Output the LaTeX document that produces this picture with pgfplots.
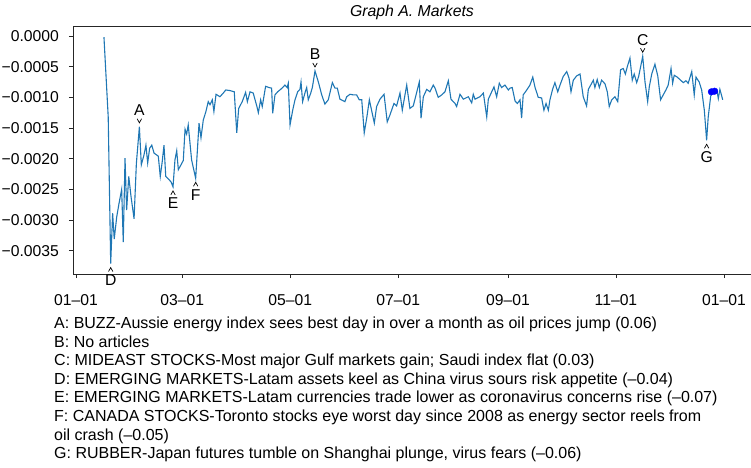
\documentclass[border=0pt]{standalone}
\usepackage{fontspec}
\setmainfont{Liberation Sans}
\usepackage{pgfplots}
\pgfplotsset{compat=1.18}
\definecolor{mplblue}{HTML}{1F77B4}
\newcommand{\fs}{\fontsize{15.7bp}{18bp}\selectfont}
\newcommand{\ft}{\fontsize{16bp}{18.6bp}\selectfont}
\newcommand{\annUp}[3]{%
  \draw[line width=0.7bp] ([xshift=-2.2bp,yshift=8bp]axis cs:#1,#2) -- ([yshift=4bp]axis cs:#1,#2) -- ([xshift=2.2bp,yshift=8bp]axis cs:#1,#2);
  \node[font=\fs,inner sep=0pt] at ([yshift=16.5bp]axis cs:#1,#2) {#3};}
\newcommand{\annDown}[3]{%
  \draw[line width=0.7bp] ([xshift=-2.2bp,yshift=-8bp]axis cs:#1,#2) -- ([yshift=-4bp]axis cs:#1,#2) -- ([xshift=2.2bp,yshift=-8bp]axis cs:#1,#2);
  \node[font=\fs,inner sep=0pt] at ([yshift=-16.5bp]axis cs:#1,#2) {#3};}
\begin{document}
\begin{tikzpicture}
\path[use as bounding box] (0bp,0bp) rectangle (751bp,-468bp);
\begin{axis}[
  at={(73bp,-274bp)}, anchor=south west,
  scale only axis, width=680bp, height=248bp,
  xmin=-1.69, xmax=382.4, ymin=-0.00388, ymax=0.000163,
  axis line style={line width=0.8bp, draw=black!85},
  tick style={line width=0.8bp, draw=black!85},
  tick align=outside, major tick length=4bp,
  xtick={0,60,121,182,244,305,366},
  xticklabels={01–01,03–01,05–01,07–01,09–01,11–01,01–01},
  ytick={0,-0.0005,-0.001,-0.0015,-0.002,-0.0025,-0.003,-0.0035},
  yticklabels={0.0000,−0.0005,−0.0010,−0.0015,−0.0020,−0.0025,−0.0030,−0.0035},
  xtick pos=bottom, ytick pos=left,
  ticklabel style={font=\fs, inner sep=0pt},
  xticklabel style={anchor=north, yshift=-16.4bp},
  yticklabel style={anchor=east, xshift=-10bp},
  scaled y ticks=false,
  clip=false,
]
\addplot[mplblue, line width=1.1bp] coordinates {
(15.8,-0.00002) (18.2,-0.00132) (19.6,-0.00371) (20.7,-0.00289) (21.6,-0.00331)
(23.0,-0.00295) (24.3,-0.00273) (25.8,-0.00250) (26.7,-0.00336) (27.7,-0.00199)
(28.6,-0.00284) (29.8,-0.00229) (31.1,-0.00262) (32.8,-0.00298) (34.1,-0.00208)
(35.8,-0.00148) (36.9,-0.00210) (38.4,-0.00194) (39.5,-0.00178) (40.5,-0.00207)
(41.6,-0.00183) (42.8,-0.00178) (44.1,-0.00191) (45.6,-0.00194) (46.5,-0.00196)
(47.6,-0.00229) (48.7,-0.00205) (49.7,-0.00178) (50.7,-0.00229) (52.5,-0.00234)
(53.7,-0.00238) (54.8,-0.00246) (55.9,-0.00202) (56.9,-0.00187) (57.8,-0.00218)
(59.3,-0.00210) (60.6,-0.00203) (61.6,-0.00152) (62.5,-0.00160) (63.4,-0.00145)
(65.3,-0.00202) (67.6,-0.00232) (69.5,-0.00142) (70.6,-0.00166) (71.9,-0.00137)
(73.4,-0.00123) (74.7,-0.00107) (75.7,-0.00112) (77.0,-0.00104) (77.9,-0.00123)
(79.1,-0.00095) (81.3,-0.00099) (83.2,-0.00093) (84.6,-0.00088) (87.0,-0.00089)
(89.4,-0.00091) (90.8,-0.00158) (91.9,-0.00118) (93.9,-0.00107) (95.8,-0.00092)
(96.8,-0.00107) (98.3,-0.00091) (100.1,-0.00093) (102.1,-0.00114) (103.0,-0.00125)
(104.3,-0.00104) (105.2,-0.00115) (107.1,-0.00082) (109.0,-0.00084) (110.5,-0.00085)
(111.1,-0.00126) (112.4,-0.00096) (113.9,-0.00091) (115.2,-0.00088) (116.7,-0.00084)
(118.0,-0.00080) (119.3,-0.00084) (119.9,-0.00077) (120.9,-0.00145) (122.4,-0.00121)
(123.7,-0.00104) (125.2,-0.00091) (126.5,-0.00087) (127.1,-0.00075) (128.0,-0.00107)
(129.3,-0.00093) (130.3,-0.00084) (131.2,-0.00104) (132.6,-0.00093) (133.5,-0.00084)
(135.0,-0.00057) (136.9,-0.00075) (138.8,-0.00096) (140.6,-0.00111) (142.5,-0.00104)
(144.8,-0.00076) (146.3,-0.00085) (147.6,-0.00085) (149.1,-0.00103) (151.9,-0.00107)
(152.9,-0.00099) (154.8,-0.00095) (156.6,-0.00096) (158.5,-0.00096) (160.0,-0.00104)
(161.4,-0.00104) (162.8,-0.00158) (164.2,-0.00134) (165.7,-0.00104) (168.5,-0.00142)
(169.8,-0.00115) (171.7,-0.00103) (174.0,-0.00095) (175.8,-0.00140) (177.3,-0.00129)
(179.6,-0.00110) (181.1,-0.00114) (183.0,-0.00093) (184.3,-0.00121) (186.8,-0.00080)
(188.6,-0.00118) (190.5,-0.00114) (193.9,-0.00075) (194.9,-0.00134) (196.2,-0.00099)
(198.1,-0.00087) (199.9,-0.00091) (201.8,-0.00080) (202.8,-0.00085) (204.6,-0.00100)
(206.6,-0.00096) (208.4,-0.00091) (210.3,-0.00073) (211.8,-0.00103) (214.1,-0.00110)
(215.0,-0.00115) (216.9,-0.00095) (218.8,-0.00103) (221.6,-0.00099) (223.5,-0.00109)
(224.4,-0.00095) (225.4,-0.00103) (228.2,-0.00099) (230.1,-0.00093) (232.0,-0.00132)
(232.9,-0.00103) (234.8,-0.00091) (236.1,-0.00083) (237.6,-0.00099) (239.1,-0.00077)
(240.4,-0.00084) (242.3,-0.00080) (244.2,-0.00088) (245.1,-0.00085) (246.4,-0.00084)
(248.0,-0.00106) (249.3,-0.00110) (250.8,-0.00104) (251.7,-0.00134) (252.6,-0.00096)
(254.6,-0.00088) (256.4,-0.00080) (258.0,-0.00067) (259.3,-0.00084) (261.1,-0.00100)
(263.0,-0.00101) (264.3,-0.00121) (265.5,-0.00110) (266.8,-0.00121) (267.7,-0.00104)
(269.2,-0.00087) (270.5,-0.00076) (272.1,-0.00091) (273.4,-0.00080) (275.2,-0.00066)
(277.2,-0.00058) (278.5,-0.00069) (279.6,-0.00091) (280.9,-0.00072) (282.8,-0.00065)
(284.7,-0.00062) (286.5,-0.00099) (288.4,-0.00114) (289.4,-0.00087) (291.3,-0.00077)
(292.2,-0.00072) (293.1,-0.00084) (294.4,-0.00071) (295.6,-0.00084) (296.9,-0.00072)
(298.8,-0.00078) (300.1,-0.00091) (301.2,-0.00115) (302.6,-0.00104) (304.4,-0.00099)
(306.0,-0.00107) (307.6,-0.00055) (309.1,-0.00053) (310.3,-0.00062) (311.4,-0.00050)
(312.9,-0.00036) (314.2,-0.00072) (315.3,-0.00062) (316.7,-0.00076) (317.8,-0.00066)
(319.0,-0.00049) (320.1,-0.00033) (321.4,-0.00075) (322.9,-0.00107) (323.8,-0.00083)
(325.2,-0.00062) (327.0,-0.00046) (328.6,-0.00065) (330.2,-0.00104) (331.7,-0.00096)
(333.2,-0.00088) (334.5,-0.00080) (336.1,-0.00053) (337.0,-0.00077) (337.9,-0.00064)
(339.6,-0.00067) (341.1,-0.00071) (343.0,-0.00076) (344.5,-0.00073) (345.8,-0.00077)
(347.8,-0.00058) (349.2,-0.00096) (350.2,-0.00067) (352.0,-0.00075) (353.4,-0.00088)
(354.9,-0.00121) (356.2,-0.00170) (357.1,-0.00132) (358.5,-0.00098) (360.0,-0.00088)
(361.9,-0.00087) (362.8,-0.00102) (363.7,-0.00087) (365.3,-0.00104)
};
\addplot[only marks, mark=*, mark size=3.3bp, color=blue] coordinates {(358.9,-0.00091) (360.7,-0.00090)};
\annUp{35.8}{-0.00148}{A}
\annUp{135.0}{-0.00057}{B}
\annUp{320.1}{-0.00033}{C}
\annDown{19.6}{-0.00371}{D}
\annDown{54.8}{-0.00246}{E}
\annDown{67.6}{-0.00232}{F}
\annDown{356.2}{-0.00170}{G}
\end{axis}
\node[font=\fontsize{15.8bp}{18bp}\selectfont\itshape] at (412bp,-12bp) {Graph A. Markets};
\begin{scope}[every node/.style={anchor=base west, inner sep=0pt, font=\ft}]
\node at (54bp,-328.5bp) {A: BUZZ-Aussie energy index sees best day in over a month as oil prices jump (0.06)};
\node at (54bp,-347.1bp) {B: No articles};
\node at (54bp,-365.7bp) {C: MIDEAST STOCKS-Most major Gulf markets gain; Saudi index flat (0.03)};
\node at (54bp,-384.3bp) {D: EMERGING MARKETS-Latam assets keel as China virus sours risk appetite (–0.04)};
\node at (54bp,-402.9bp) {E: EMERGING MARKETS-Latam currencies trade lower as coronavirus concerns rise (–0.07)};
\node at (54bp,-421.5bp) {F: CANADA STOCKS-Toronto stocks eye worst day since 2008 as energy sector reels from};
\node at (54bp,-440.1bp) {oil crash (–0.05)};
\node at (54bp,-458.7bp) {G: RUBBER-Japan futures tumble on Shanghai plunge, virus fears (–0.06)};
\end{scope}
\end{tikzpicture}
\end{document}
